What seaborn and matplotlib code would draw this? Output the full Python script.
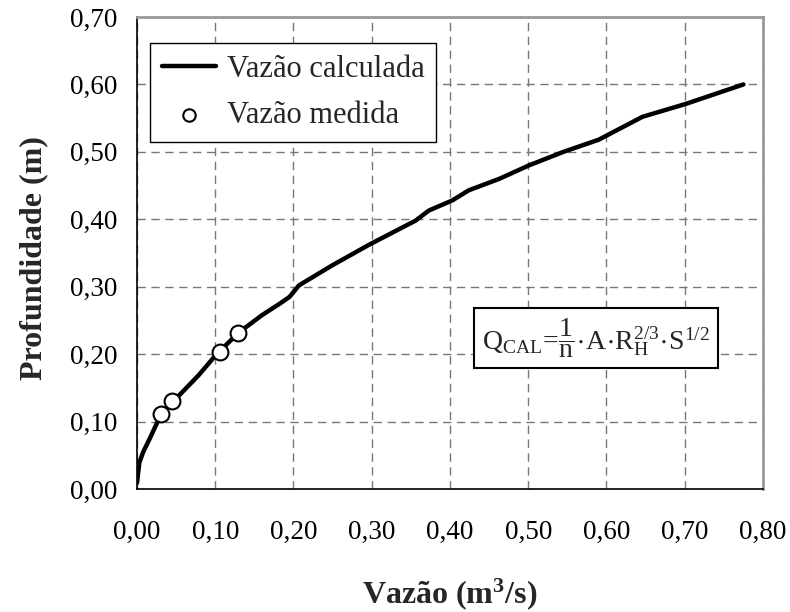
import matplotlib
matplotlib.use("Agg")
import matplotlib.pyplot as plt
import seaborn as sns
import pandas as pd
from matplotlib.ticker import MultipleLocator, FuncFormatter

# Data
q_calc = [0.0, 0.003, 0.008, 0.016, 0.026, 0.033, 0.054, 0.079, 0.101, 0.13, 0.16,
          0.182, 0.195, 0.207, 0.25, 0.297, 0.356, 0.373, 0.403, 0.424, 0.463,
          0.501, 0.545, 0.590, 0.646, 0.701, 0.775]
h_calc = [0.009, 0.039, 0.055, 0.074, 0.099, 0.114, 0.139, 0.169, 0.199, 0.232, 0.258,
          0.2745, 0.285, 0.302, 0.332, 0.3625, 0.398, 0.413, 0.428, 0.443, 0.460,
          0.480, 0.500, 0.518, 0.552, 0.571, 0.600]
q_med = [0.031, 0.045, 0.106, 0.129]
h_med = [0.111, 0.131, 0.203, 0.231]

sns.set_style("white")
plt.rcParams['font.family'] = ['Liberation Serif', 'DejaVu Serif']
plt.rcParams['mathtext.fontset'] = 'custom'
plt.rcParams['mathtext.rm'] = 'Liberation Serif'
plt.rcParams['mathtext.it'] = 'Liberation Serif'
plt.rcParams['mathtext.bf'] = 'Liberation Serif:bold'

fig = plt.figure(figsize=(7.9, 6.12), dpi=100)
ax = fig.add_axes([0.1734, 0.201, 0.7924, 0.7712])

df_c = pd.DataFrame({"Q": q_calc, "H": h_calc})
df_m = pd.DataFrame({"Q": q_med, "H": h_med})

sns.lineplot(data=df_c, x="Q", y="H", ax=ax, color="black", linewidth=3.2,
             sort=False, label="Vazão calculada", zorder=3)
sns.scatterplot(data=df_m, x="Q", y="H", ax=ax, s=130, facecolor="white",
                edgecolor="black", linewidth=1.5, label="Vazão medida", zorder=4)

ax.set_xlim(0, 0.80)
ax.set_ylim(0, 0.70)
ax.xaxis.set_major_locator(MultipleLocator(0.1))
ax.yaxis.set_major_locator(MultipleLocator(0.1))
fmt = FuncFormatter(lambda v, p: f"{v:.2f}".replace(".", ","))
ax.xaxis.set_major_formatter(fmt)
ax.yaxis.set_major_formatter(fmt)
ax.grid(True, color="#777777", linestyle=(0, (6, 4)), linewidth=1.0)
ax.tick_params(axis="both", direction="in", length=4, width=1, labelsize=19.5,
               colors="black")
ax.tick_params(axis="x", pad=22)
ax.tick_params(axis="y", pad=14)
for s in ["left", "bottom"]:
    ax.spines[s].set_color("black")
    ax.spines[s].set_linewidth(1.2)
for s in ["top", "right"]:
    ax.spines[s].set_color("#999999")
    ax.spines[s].set_linewidth(2)

ax.set_xlabel(r"Vazão (m$^{\mathbf{3}}$/s)", fontsize=23, fontweight="bold")
ax.set_ylabel("Profundidade (m)", fontsize=23, fontweight="bold")
ax.xaxis.set_label_coords(0.5, -0.184)
ax.yaxis.set_label_coords(-0.142, 0.49)

# Legend
handles, labels = ax.get_legend_handles_labels()
leg = ax.legend(handles, labels, loc="upper left", bbox_to_anchor=(0.021, 0.945),
                fontsize=22, frameon=True, fancybox=False, edgecolor="black",
                framealpha=1, borderpad=0.4, handlelength=1.75, handletextpad=0.35,
                labelspacing=0.55, borderaxespad=0)
leg.get_frame().set_linewidth(1.0)
leg.legend_handles[1].set_sizes([80])

# Formula box
ax.text(0.551, 0.32,
        r"$\mathregular{Q_{CAL}\!=\!\dfrac{1}{n}\!\cdot\! A\!\cdot\! R_H^{2/3}\!\cdot\! S^{1/2}}$",
        transform=ax.transAxes, fontsize=20, ha="left", va="center", zorder=6,
        bbox=dict(boxstyle="square,pad=0.3", facecolor="white", edgecolor="black",
                  linewidth=1.5))

fig.savefig("out.png", dpi=100)
